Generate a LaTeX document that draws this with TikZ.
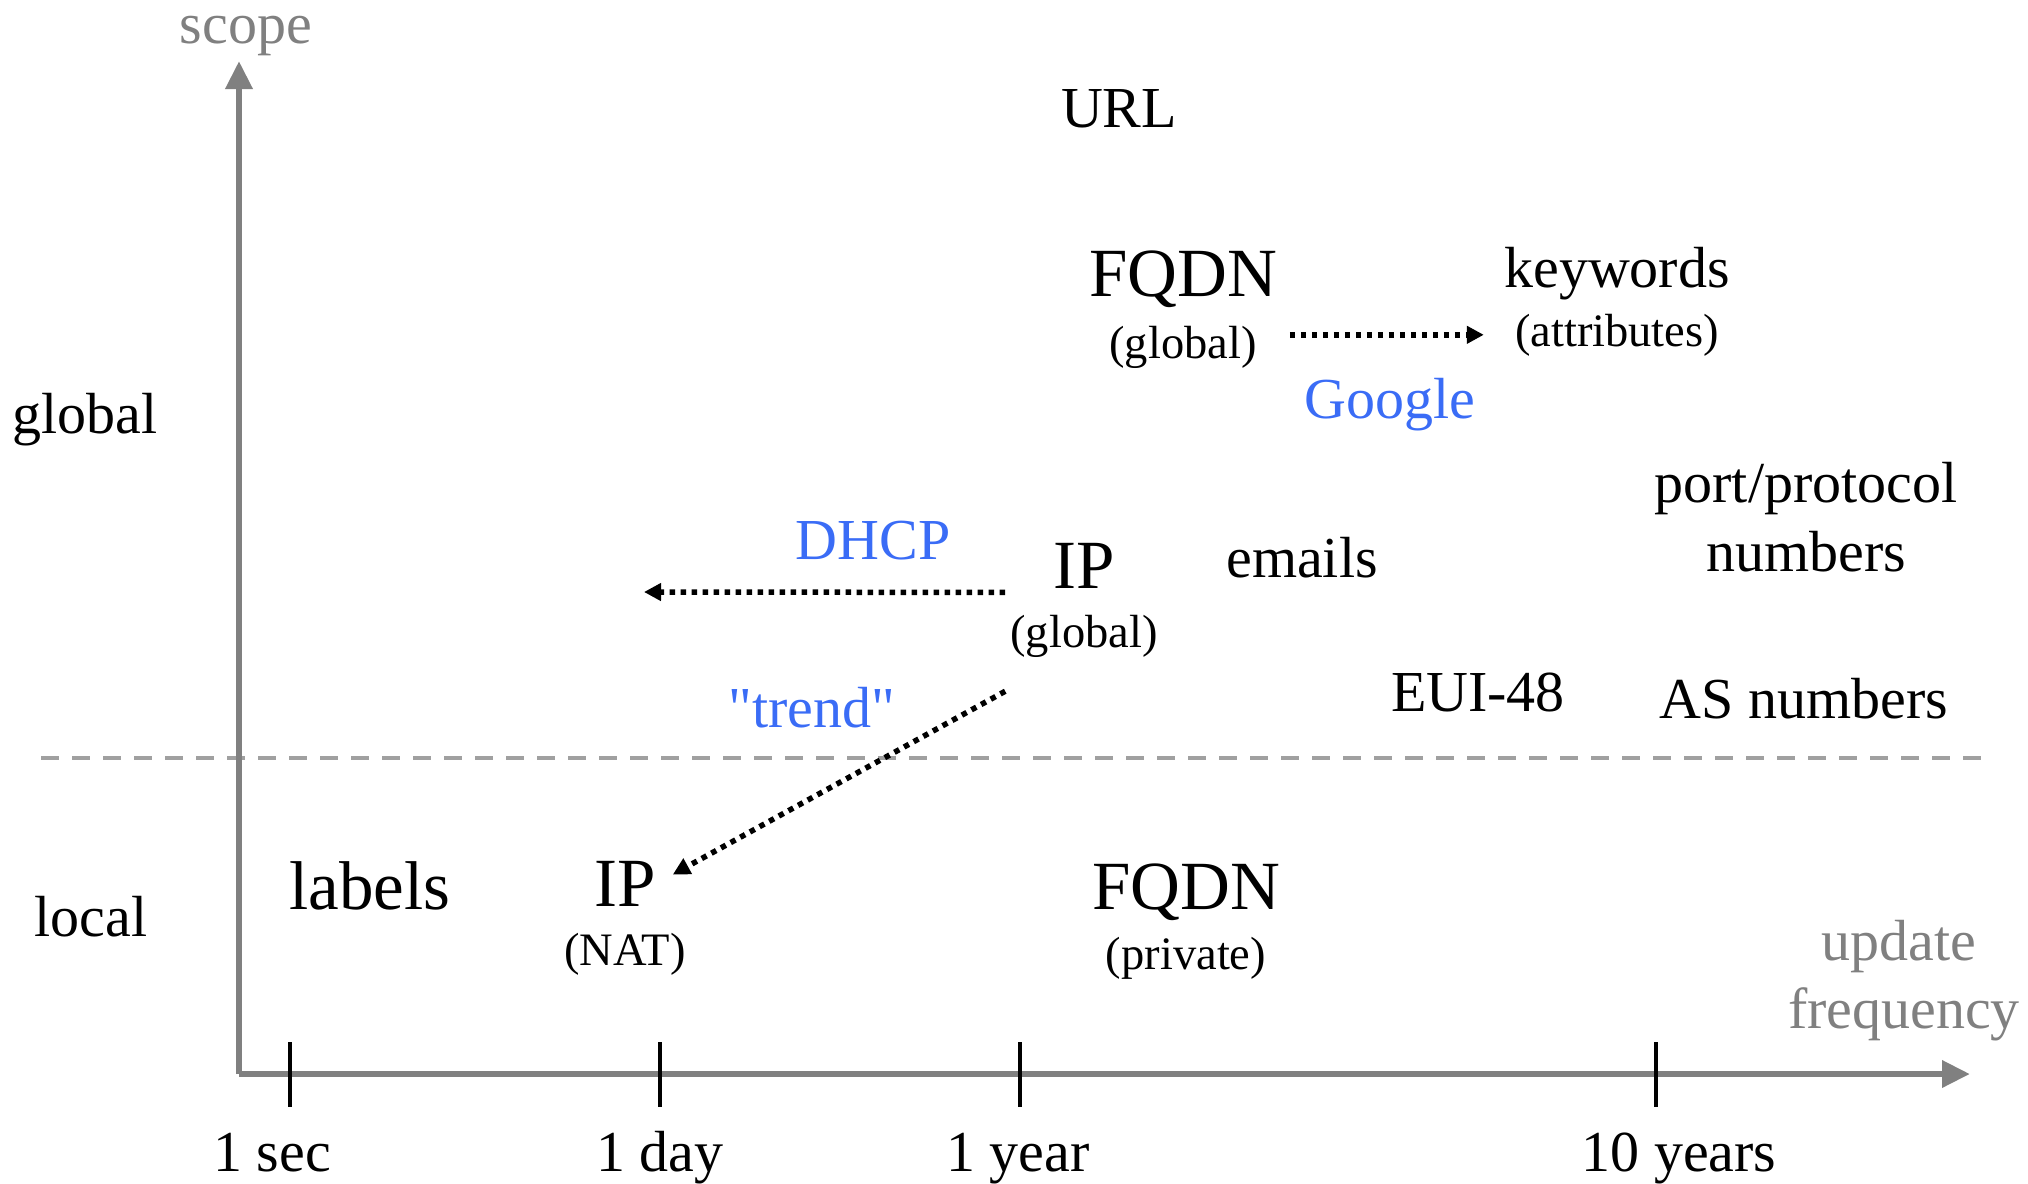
\documentclass[tikz,border=0pt]{standalone}
\usepackage{fontspec}
\setmainfont{Liberation Serif}[Ligatures=TeXOff]
\usetikzlibrary{arrows.meta}
\definecolor{axisgray}{RGB}{128,128,128}
\definecolor{dashgray}{RGB}{160,160,160}
\definecolor{linkblue}{RGB}{58,108,246}
\begin{document}
\begin{tikzpicture}[x=1pt,y=-1pt,
  txt/.style={font=\fontsize{58}{69}\selectfont, anchor=base, inner sep=0pt},
  bigtxt/.style={font=\fontsize{69}{80}\selectfont, anchor=base, inner sep=0pt},
  smalltxt/.style={font=\fontsize{46.5}{55}\selectfont, anchor=base, inner sep=0pt},
  axlabel/.style={txt, text=axisgray},
  bluetxt/.style={txt, text=linkblue},
  axisline/.style={draw=axisgray, line width=6.5pt, -{Triangle[length=28pt,width=26pt]}},
  tickline/.style={draw=black, line width=4.5pt},
  dotarrow/.style={draw=black, line width=5.5pt, dash pattern=on 5.5pt off 5.5pt, -{Triangle[length=17pt,width=17pt]}},
  sepline/.style={draw=dashgray, line width=4.5pt, dash pattern=on 18pt off 13pt},
]
\useasboundingbox (0,0) rectangle (2028,1183);

% separator
\coordinate (sepL) at (41,758);
\coordinate (sepR) at (1985,758);
\draw[sepline] (sepL) -- (sepR);

% axes
\coordinate (origin) at (239,1074);
\coordinate (ytip) at (239,61);
\coordinate (xtip) at (1970,1074);
\draw[axisline] (origin) -- (ytip);
\draw[axisline] (origin) -- (xtip);

\node[axlabel] (scope) at (246,43) {scope};
\node[axlabel] (upd) at (1899,960) {update};
\node[axlabel] (freq) at (1904,1028) {frequency};

% ticks
\coordinate (t1) at (290,1074);
\coordinate (t2) at (660,1074);
\coordinate (t3) at (1020,1074);
\coordinate (t4) at (1656,1074);
\foreach \t in {t1,t2,t3,t4}
  \draw[tickline] ([yshift=32pt]\t) -- ([yshift=-33pt]\t);

\node[txt] (l1) at (272,1171) {1 sec};
\node[txt] (l2) at (660,1171) {1 day};
\node[txt] (l3) at (1018,1171) {1 year};
\node[txt] (l4) at (1679,1171) {10 years};

% scope labels
\node[txt] (glob) at (85,433) {global};
\node[txt] (loc) at (91,936) {local};

% items
\node[txt] (url) at (1119,127) {URL};
\node[bigtxt] (fq) at (1183,296) {FQDN};
\node[smalltxt] (fqg) at (1183,358) {(global)};
\node[txt] (kw) at (1617,287) {keywords};
\node[smalltxt] (attr) at (1617,346) {(attributes)};
\node[bluetxt] (google) at (1390,418) {Google};

\node[txt] (port) at (1806,502) {port/protocol};
\node[txt] (portn) at (1806,571) {numbers};

\node[bluetxt] (dhcp) at (873,559) {DHCP};
\node[bigtxt] (ipg) at (1084,588) {IP};
\node[smalltxt] (ipgs) at (1084,647) {(global)};
\node[txt] (emails) at (1302,577) {emails};
\node[bluetxt] (trend) at (812,727) {"trend"};
\node[txt] (eui) at (1478,711) {EUI-48};
\node[txt] (asn) at (1804,718) {AS numbers};

\node[bigtxt] (labels) at (370,909) {labels};
\node[bigtxt] (ipn) at (625,906) {IP};
\node[smalltxt] (ipns) at (625,965) {(NAT)};
\node[bigtxt] (fqp) at (1186,909) {FQDN};
\node[smalltxt] (fqps) at (1186,969) {(private)};

% connectors
\draw[dotarrow, shorten <=33pt, shorten >=31pt] (fqg.east |- attr.west) -- (attr.west);
\coordinate (dhcpend) at (644,592);
\draw[dotarrow] ([xshift=-48pt,yshift=-27pt]ipg.west) -- (dhcpend);
\draw[dotarrow] ([xshift=-5pt,yshift=-34pt]ipgs.south west) -- ([xshift=17pt,yshift=9pt]ipn.east);
\end{tikzpicture}
\end{document}
